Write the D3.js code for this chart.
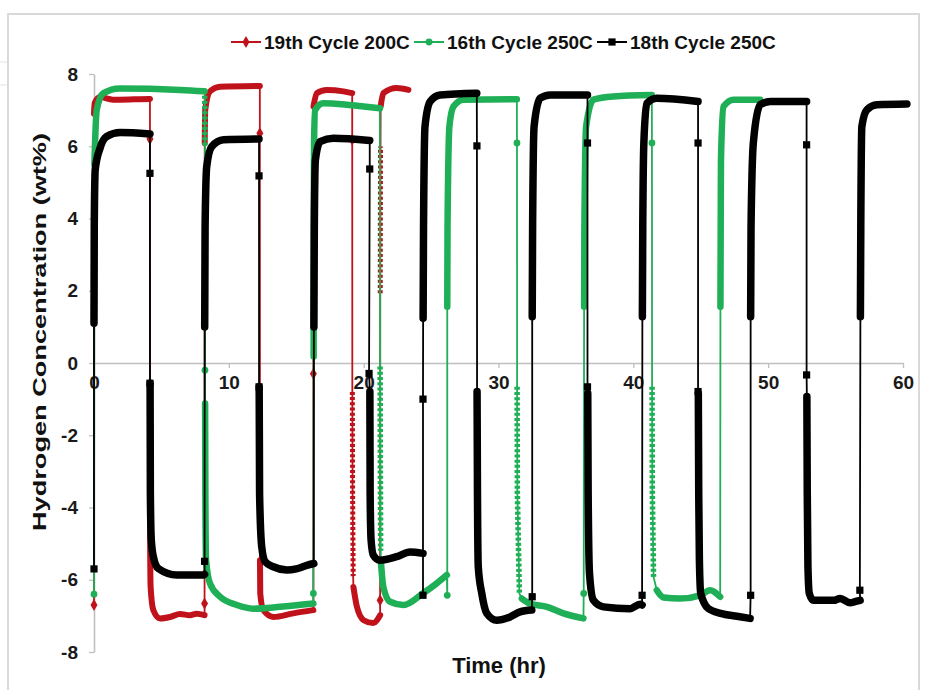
<!DOCTYPE html>
<html>
<head>
<meta charset="utf-8">
<script src="https://cdn.jsdelivr.net/npm/d3@7"></script>
<style>
  html, body { margin: 0; padding: 0; background: #fff; }
  svg { display: block; font-family: "Liberation Sans", Arial, sans-serif; }
</style>
</head>
<body>
<svg id="chart" width="928" height="690"></svg>
<script>
// ---------------- DATA ----------------
const seriesNames = ["19th Cycle 200C", "16th Cycle 250C", "18th Cycle 250C"];
const xTicks = [0, 10, 20, 30, 40, 50, 60];
const yTicks = [-8, -6, -4, -2, 0, 2, 4, 6, 8];

// 19th Cycle 200C : dense runs of points and the sparse points before each run
const redDense = [
  [[0,6.9],[0.05,7.2],[0.45,7.36],[1.4,7.29],[3.0,7.3],[4.15,7.31]],
  [[4.16,-4.5],[4.17,-5.36],[4.2,-6.2],[4.4,-6.84],[4.9,-7.07],[5.64,-7.03],[6.38,-6.95],[7.12,-6.98],[7.62,-6.94],[8.2,-6.98]],
  [[8.21,6.09],[8.25,7.0],[8.6,7.52],[9.35,7.65],[12.3,7.67]],
  [[12.31,-5.46],[12.33,-6.38],[12.56,-6.84],[13.3,-7.03],[14.78,-6.93],[16.27,-6.84]],
  [[16.28,7.1],[16.52,7.47],[17.26,7.56],[18.5,7.52],[19.15,7.47]],
  [[19.16,-0.8],[19.18,-3.6],[19.22,-5.9]],
  [[19.24,-6.2],[19.5,-6.75],[20.0,-7.12],[20.7,-7.2],[21.22,-6.98]],
  [[21.23,1.93],[21.24,4.0],[21.25,5.99]],
  [[21.26,7.1],[21.46,7.47],[22.45,7.61],[23.32,7.56]]
];
const redJumps = [
  [[0,-6.7]], [[4.15,6.2]], [[8.2,-6.66]], [[12.3,6.36]], [[16.27,-0.3]],
  [[19.15,6.18]], [], [[21.22,-6.57]], []
];

// 16th Cycle 250C
const greenDense = [
  [[0.03,5.5],[0.07,6.0],[0.2,7.0],[0.7,7.47],[1.9,7.6],[6.4,7.56],[8.2,7.52]],
  [[8.21,7.4],[8.22,6.7],[8.23,6.0]],
  [[8.24,-1.12],[8.26,-3.61],[8.31,-5.46],[8.6,-6.1],[9.35,-6.47],[10.6,-6.7],[11.8,-6.8],[13.8,-6.75],[16.27,-6.66]],
  [[16.29,0.18],[16.3,3.78],[16.32,6.09],[16.4,7.0],[17.0,7.19],[18.75,7.15],[20.0,7.1],[21.2,7.05]],
  [[21.22,-0.1],[21.24,-3.0],[21.26,-5.2]],
  [[21.27,-5.46],[21.46,-6.2],[21.96,-6.61],[22.95,-6.7],[24.38,-6.38],[25.42,-6.1],[26.17,-5.87]],
  [[26.2,1.56],[26.22,3.78],[26.36,6.55],[26.66,7.1],[27.4,7.29],[31.36,7.3]],
  [[31.38,-0.66],[31.4,-3.61],[31.55,-6.38]],
  [[31.73,-6.52],[32.34,-6.66],[33.58,-6.75],[34.82,-6.93],[36.3,-7.07]],
  [[36.35,1.56],[36.37,3.78],[36.5,6.55],[37.04,7.29],[38.5,7.38],[41.37,7.42]],
  [[41.39,-0.66],[41.41,-3.61],[41.5,-5.92]],
  [[41.74,-6.29],[42.24,-6.49],[43.47,-6.52],[44.96,-6.43],[45.7,-6.29],[46.44,-6.47]],
  [[46.46,1.56],[46.48,3.78],[46.5,5.62],[46.69,7.1],[47.43,7.29],[49.41,7.29]]
];
const greenJumps = [
  [[0,-6.4]], [], [[8.23,-0.2]], [[16.27,-6.38]], [], [], [[26.2,-6.43]],
  [[31.37,6.09]], [], [[36.32,-6.38]], [[41.38,6.09]], [], []
];

// 18th Cycle 250C
const blackDense = [
  [[0.0,1.1],[0.02,3.8],[0.09,5.35],[0.45,5.95],[0.94,6.27],[1.93,6.38],[4.15,6.34]],
  [[4.16,-0.56],[4.18,-3.61],[4.25,-4.9],[4.4,-5.36],[4.77,-5.69],[6.13,-5.87],[8.1,-5.87],[8.2,-5.85]],
  [[8.21,1.0],[8.24,3.78],[8.36,5.44],[8.73,5.99],[9.6,6.18],[12.24,6.2]],
  [[12.25,-0.66],[12.28,-3.61],[12.44,-5.09],[12.69,-5.5],[13.3,-5.64],[14.3,-5.73],[15.0,-5.7],[15.78,-5.6],[16.3,-5.55]],
  [[16.31,1.0],[16.34,3.78],[16.42,5.62],[16.77,6.13],[17.75,6.22],[20.45,6.16]],
  [[20.46,-0.79],[20.48,-3.61],[20.55,-4.9],[20.72,-5.32],[21.2,-5.46],[22.45,-5.36],[23.44,-5.23],[24.4,-5.27]],
  [[24.41,1.24],[24.44,3.78],[24.55,6.55],[24.93,7.24],[25.67,7.42],[28.39,7.47]],
  [[28.41,-0.79],[28.44,-3.61],[28.5,-5.64],[28.76,-6.38],[29.13,-6.93],[29.87,-7.12],[30.86,-7.03],[31.6,-6.89],[32.47,-6.84]],
  [[32.5,1.28],[32.53,3.78],[32.64,6.55],[33.09,7.33],[33.83,7.42],[36.6,7.42]],
  [[36.62,-0.84],[36.65,-3.61],[36.75,-5.83],[37.04,-6.57],[37.78,-6.75],[39.76,-6.8],[40.5,-6.68],[40.65,-6.7]],
  [[40.67,1.28],[40.7,3.78],[40.78,6.09],[41.0,7.19],[41.74,7.33],[44.8,7.24]],
  [[44.82,-0.84],[44.85,-3.61],[44.9,-5.46],[45.0,-6.38],[45.57,-6.8],[46.47,-6.93],[47.68,-7.01],[48.66,-7.07]],
  [[48.7,1.28],[48.73,3.78],[48.9,6.09],[49.41,7.15],[50.15,7.24],[52.85,7.24]],
  [[52.87,-0.93],[52.9,-3.61],[52.95,-5.64],[53.05,-6.38],[53.36,-6.57],[54.85,-6.57],[55.34,-6.52],[56.08,-6.64],[56.5,-6.6],[56.82,-6.57]],
  [[56.84,1.28],[56.87,3.78],[56.95,6.55],[57.32,7.01],[58.06,7.15],[60.29,7.17]]
];
const blackJumps = [
  [[0,-5.7]], [[4.15,5.25],[4.15,-0.56]], [[8.2,-5.49]], [[12.24,5.18],[12.24,-0.66]], [],
  [[20.45,5.37],[20.4,-0.29]], [[24.4,-6.43],[24.4,-1.0]], [[28.4,6.01]], [[32.5,-6.47]],
  [[36.6,6.09],[36.6,-0.66]], [[40.65,-6.43]], [[44.8,6.09],[44.8,-0.79]], [[48.7,-6.43]],
  [[52.85,6.04],[52.85,-0.33]], [[56.8,-6.29]]
];

// ---------------- STYLE ----------------
const colors = ["#c0121b", "#1faf57", "#000000"];
const markerTypes = [d3.symbolDiamond, d3.symbolCircle, d3.symbolSquare];
const markerSizes = [42, 36, 52];
const thickWidths = [6, 6.5, 7.5];
const dottedRuns = [[5, 7], [1, 4, 7, 10], []];

const svg = d3.select("#chart");
const x = d3.scaleLinear().domain([0, 60]).range([94, 903]);
const y = d3.scaleLinear().domain([-8, 8]).range([652, 74]);

// frame
svg.append("rect").attr("x", 8).attr("y", 14).attr("width", 911).attr("height", 690)
  .attr("fill", "#fff").attr("stroke", "#d9d9d9").attr("stroke-width", 2);
svg.append("line").attr("x1", 0).attr("x2", 7).attr("y1", 62).attr("y2", 62).attr("stroke", "#e3e3e3");
svg.append("line").attr("x1", 0).attr("x2", 7).attr("y1", 85).attr("y2", 85).attr("stroke", "#e3e3e3");

// axes
const fmt = d => String(d);
const gy = svg.append("g").attr("transform", `translate(${x(0)},0)`)
  .call(d3.axisLeft(y).tickValues(yTicks).tickSize(5).tickSizeOuter(0).tickPadding(11).tickFormat(fmt));
const gx = svg.append("g").attr("transform", `translate(0,${y(0)})`)
  .call(d3.axisBottom(x).tickValues(xTicks).tickSize(5).tickSizeOuter(0).tickPadding(8).tickFormat(fmt));
[gx, gy].forEach(g => {
  g.select(".domain").attr("stroke", "#bfbfbf").attr("stroke-width", 1.6);
  g.selectAll(".tick line").attr("stroke", "#bfbfbf").attr("stroke-width", 1.3);
  g.selectAll(".tick text").attr("fill", "#1a1a1a").attr("font-size", 19).attr("font-weight", "bold")
    .attr("font-family", "Liberation Sans, Arial, sans-serif");
});
gx.selectAll(".tick").filter(d => d === 0).select("line").remove();

// axis titles
svg.append("text").attr("x", 499).attr("y", 673).attr("text-anchor", "middle")
  .attr("font-size", 22).attr("font-weight", "bold").attr("fill", "#111").text("Time (hr)");
svg.append("text").attr("transform", "translate(41,332) rotate(-90)").attr("text-anchor", "middle")
  .attr("dominant-baseline", "middle")
  .attr("font-size", 18).attr("font-weight", "bold").attr("fill", "#111")
  .attr("textLength", 398).attr("lengthAdjust", "spacingAndGlyphs")
  .text("Hydrogen Concentration (wt%)");

// series
const allDense = [redDense, greenDense, blackDense];
const allJumps = [redJumps, greenJumps, blackJumps];
const thinLine = d3.line().x(d => x(d[0])).y(d => y(d[1]));
const thickLine = d3.line().x(d => x(d[0])).y(d => y(d[1])).curve(d3.curveMonotoneX);

allDense.forEach((dense, si) => {
  const jumps = allJumps[si];
  const g = svg.append("g");
  const ordered = [];
  dense.forEach((run, i) => { (jumps[i] || []).forEach(p => ordered.push(p)); run.forEach(p => ordered.push(p)); });
  g.append("path").attr("d", thinLine(ordered)).attr("fill", "none")
    .attr("stroke", colors[si]).attr("stroke-width", 1.8);
  dense.forEach((run, i) => {
    const dotted = dottedRuns[si].includes(i);
    g.append("path").attr("d", dotted ? thinLine(run) : thickLine(run)).attr("fill", "none")
      .attr("stroke", colors[si]).attr("stroke-width", dotted ? thickWidths[si] - 1 : thickWidths[si])
      .attr("stroke-linecap", dotted ? "butt" : "round").attr("stroke-linejoin", "round")
      .attr("stroke-dasharray", dotted ? "3,2.2" : null);
  });
  const sym = d3.symbol().type(markerTypes[si]).size(markerSizes[si]);
  jumps.forEach(arr => arr.forEach(p => {
    g.append("path").attr("d", sym()).attr("transform", `translate(${x(p[0])},${y(p[1])})`)
      .attr("fill", colors[si]);
  }));
});

// legend
const legendX = [231, 414, 597];
seriesNames.forEach((name, i) => {
  const lg = svg.append("g").attr("transform", `translate(${legendX[i]},42)`);
  lg.append("line").attr("x1", 0).attr("x2", 30).attr("y1", 0).attr("y2", 0)
    .attr("stroke", colors[i]).attr("stroke-width", 2);
  lg.append("path").attr("d", d3.symbol().type(markerTypes[i]).size(markerSizes[i])())
    .attr("transform", "translate(15,0)").attr("fill", colors[i]);
  lg.append("text").attr("x", 33).attr("y", 0).attr("dominant-baseline", "central")
    .attr("font-size", 19).attr("font-weight", "bold").attr("fill", "#111").text(name);
});
</script>
</body>
</html>
